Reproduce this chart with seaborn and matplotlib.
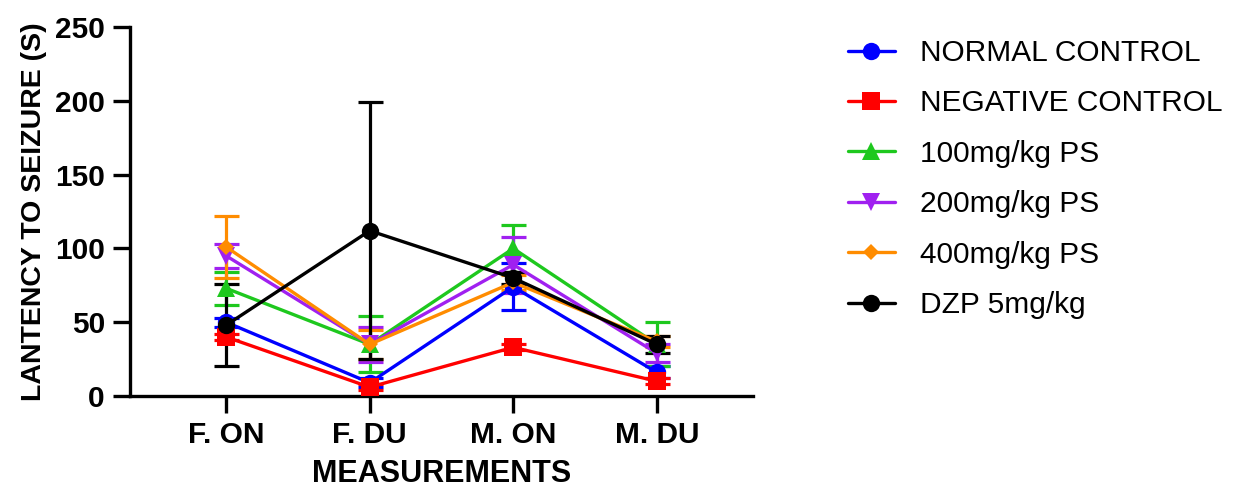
import matplotlib
matplotlib.use("Agg")
import matplotlib.pyplot as plt
import seaborn as sns
import pandas as pd

measurements = ["F. ON", "F. DU", "M. ON", "M. DU"]
groups = ["NORMAL CONTROL", "NEGATIVE CONTROL", "100mg/kg PS",
          "200mg/kg PS", "400mg/kg PS", "DZP 5mg/kg"]

normal_control = [50, 9, 74, 16]
negative_control = [40, 6, 33, 10]
ps_100 = [73, 35, 100, 35]
ps_200 = [95, 35, 89, 29]
ps_400 = [101, 35, 77, 37]
dzp_5 = [48, 112, 80, 35]

normal_err = [3, 3, 16, 4]
negative_err = [2, 2, 2, 2]
ps_100_err = [11, 19, 16, 15]
ps_200_err = [8, 12, 19, 6]
ps_400_err = [21, 10, 5, 4]
dzp_err = [28, 87, 4, 6]

colors = ["#0000ff", "#ff0000", "#1ec81e", "#a020f0", "#ff8c00", "#000000"]
markers = ["o", "s", "^", "v", "D", "o"]

values = [normal_control, negative_control, ps_100, ps_200, ps_400, dzp_5]
errors = [normal_err, negative_err, ps_100_err, ps_200_err, ps_400_err, dzp_err]

rows = []
for g, vals in zip(groups, values):
    for m, v in zip(measurements, vals):
        rows.append({"group": g, "measurement": m, "latency": v})
df = pd.DataFrame(rows)

sns.set_style("ticks", {"axes.edgecolor": "black", "text.color": "black",
                        "xtick.color": "black", "ytick.color": "black",
                        "axes.labelcolor": "black"})
plt.rcParams['font.family'] = ['Liberation Sans', 'DejaVu Sans']

fig = plt.figure(figsize=(12.58, 4.88), dpi=100)
ax = fig.add_axes([0.1033, 0.1885, 0.4953, 0.756])

# error bars first so the markers sit on top
for i, (vals, errs) in enumerate(zip(values, errors)):
    ax.errorbar(range(len(measurements)), vals, yerr=errs, fmt="none",
                ecolor=colors[i], elinewidth=2.3, capsize=9, capthick=2.3, zorder=2)

sns.lineplot(data=df, x="measurement", y="latency", hue="group", style="group",
             hue_order=groups, style_order=groups, palette=colors,
             markers=markers, dashes=False, markersize=12.5, markeredgewidth=0,
             linewidth=2.4, sort=False, ax=ax, zorder=3)

# the diamond is drawn smaller in the original
for line in ax.get_lines():
    if line.get_marker() == "D":
        line.set_markersize(8)

ax.set_xlim(-0.67, 3.67)
ax.set_ylim(0, 250)
ax.set_yticks([0, 50, 100, 150, 200, 250])
ax.set_xticks(range(len(measurements)))
ax.set_xticklabels(measurements)
ax.set_xlabel("MEASUREMENTS", fontsize=22, fontweight="bold", labelpad=7)
ax.set_ylabel("LANTENCY TO SEIZURE (S)", fontsize=20.5, fontweight="bold", labelpad=6)
ax.tick_params(axis="both", labelsize=21.5, width=2.4, length=12, pad=6)
for lab in ax.get_xticklabels() + ax.get_yticklabels():
    lab.set_fontweight("bold")
sns.despine(ax=ax)
for side in ["left", "bottom"]:
    ax.spines[side].set_linewidth(2.4)

handles, labels = ax.get_legend_handles_labels()
for h in handles:
    h.set_linewidth(2.4)
    if h.get_marker() == "D":
        h.set_markersize(8)
ax.legend(handles, labels, loc="upper left", bbox_to_anchor=(0.653, 0.975),
          bbox_transform=fig.transFigure, frameon=False, fontsize=21.5,
          handlelength=1.55, handletextpad=0.85, labelspacing=0.75)

fig.savefig("out.png", dpi=100)
